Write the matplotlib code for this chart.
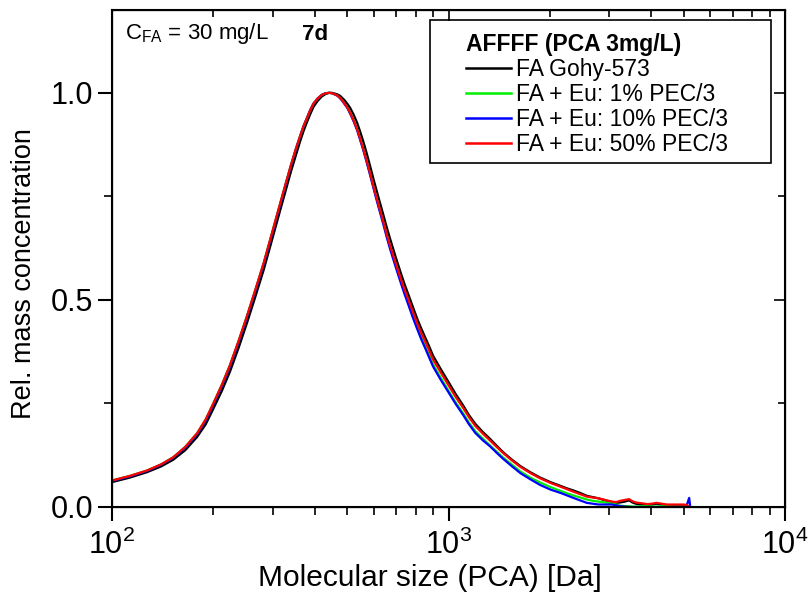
import numpy as np
import matplotlib
matplotlib.use("Agg")
import matplotlib.pyplot as plt
from matplotlib import font_manager
from matplotlib.patches import Rectangle
from matplotlib.ticker import LogLocator, MultipleLocator, NullFormatter

# ---------------------------------------------------------------
# Data: relative mass concentration vs. molecular size (PCA)
# ---------------------------------------------------------------
mass = [100, 113, 127, 140, 152, 165, 179, 190, 200, 212,
        224, 238, 252, 267, 282, 298, 316, 328, 340, 351,
        362, 371, 380, 388, 397, 408, 420, 431, 442, 451,
        460, 468, 476, 483, 490, 500, 510, 522, 535, 546,
        558, 571, 585, 598, 612, 626, 640, 655, 671, 697,
        723, 741, 760, 783, 807, 828, 850, 875, 900, 950,
        1000, 1050, 1106, 1150, 1201, 1265, 1331, 1390, 1455, 1540,
        1634, 1750, 1874, 2010, 2152, 2250, 2350, 2460, 2576, 2680,
        2790, 2920, 3060, 3150, 3240, 3340, 3440, 3520, 3600, 3750,
        3900, 4020, 4150, 4300, 4450, 4700, 5000, 5100, 5190, 5230]

fa_gohy = [0.060, 0.071, 0.084, 0.098, 0.114, 0.137, 0.169, 0.200, 0.237, 0.280,
           0.326, 0.385, 0.445, 0.509, 0.571, 0.641, 0.716, 0.763, 0.809, 0.846,
           0.882, 0.908, 0.930, 0.948, 0.966, 0.980, 0.991, 0.997, 1.000, 1.000,
           0.998, 0.996, 0.993, 0.988, 0.983, 0.974, 0.964, 0.948, 0.928, 0.907,
           0.883, 0.855, 0.823, 0.793, 0.763, 0.734, 0.706, 0.676, 0.647, 0.603,
           0.563, 0.537, 0.513, 0.484, 0.455, 0.433, 0.412, 0.389, 0.365, 0.332,
           0.302, 0.273, 0.245, 0.222, 0.201, 0.181, 0.164, 0.148, 0.132, 0.115,
           0.099, 0.084, 0.071, 0.060, 0.051, 0.045, 0.040, 0.034, 0.027, 0.024,
           0.021, 0.016, 0.012, 0.010, 0.011, 0.013, 0.016, 0.011, 0.008, 0.006,
           0.005, 0.006, 0.008, 0.006, 0.004, 0.004, 0.004, 0.002, 0.000, np.nan]

eu_1pct = [0.064, 0.075, 0.088, 0.103, 0.120, 0.145, 0.178, 0.212, 0.250, 0.295,
           0.342, 0.402, 0.462, 0.526, 0.588, 0.658, 0.733, 0.780, 0.825, 0.862,
           0.895, 0.920, 0.940, 0.958, 0.974, 0.986, 0.995, 0.999, 1.000, 0.999,
           0.996, 0.993, 0.988, 0.982, 0.975, 0.965, 0.952, 0.934, 0.912, 0.889,
           0.864, 0.835, 0.804, 0.774, 0.743, 0.714, 0.687, 0.656, 0.627, 0.584,
           0.544, 0.518, 0.493, 0.463, 0.434, 0.411, 0.390, 0.367, 0.344, 0.311,
           0.281, 0.253, 0.226, 0.204, 0.183, 0.165, 0.148, 0.134, 0.119, 0.103,
           0.086, 0.071, 0.059, 0.048, 0.039, 0.033, 0.028, 0.023, 0.018, 0.015,
           0.013, 0.011, 0.009, 0.006, 0.003, 0.002, 0.002, 0.001, 0.001, 0.002,
           0.002, 0.001, 0.001, 0.002, 0.002, 0.001, 0.001, 0.000, np.nan, np.nan]

eu_10pct = [0.063, 0.074, 0.087, 0.102, 0.119, 0.143, 0.176, 0.209, 0.247, 0.292,
            0.339, 0.399, 0.459, 0.523, 0.585, 0.655, 0.730, 0.778, 0.823, 0.861,
            0.894, 0.920, 0.940, 0.958, 0.974, 0.986, 0.995, 0.999, 1.000, 0.999,
            0.996, 0.993, 0.987, 0.981, 0.974, 0.964, 0.950, 0.932, 0.910, 0.887,
            0.862, 0.833, 0.801, 0.771, 0.740, 0.711, 0.683, 0.652, 0.622, 0.579,
            0.539, 0.513, 0.488, 0.458, 0.430, 0.407, 0.386, 0.362, 0.339, 0.306,
            0.277, 0.249, 0.222, 0.200, 0.179, 0.161, 0.146, 0.131, 0.116, 0.099,
            0.082, 0.067, 0.053, 0.042, 0.034, 0.028, 0.022, 0.016, 0.010, 0.008,
            0.006, 0.006, 0.006, 0.004, 0.002, 0.001, 0.000, 0.000, 0.000, 0.000,
            0.000, 0.000, 0.000, 0.000, 0.000, 0.000, 0.000, 0.003, 0.022, 0.000]

eu_50pct = [0.064, 0.075, 0.088, 0.103, 0.120, 0.145, 0.178, 0.212, 0.250, 0.295,
            0.342, 0.402, 0.462, 0.526, 0.588, 0.658, 0.733, 0.780, 0.825, 0.862,
            0.895, 0.920, 0.940, 0.958, 0.974, 0.986, 0.995, 0.999, 1.000, 0.999,
            0.996, 0.993, 0.988, 0.982, 0.975, 0.965, 0.952, 0.934, 0.912, 0.890,
            0.865, 0.836, 0.805, 0.775, 0.745, 0.717, 0.689, 0.659, 0.630, 0.588,
            0.549, 0.524, 0.501, 0.472, 0.444, 0.422, 0.402, 0.379, 0.356, 0.324,
            0.294, 0.266, 0.239, 0.217, 0.196, 0.177, 0.160, 0.145, 0.130, 0.113,
            0.097, 0.082, 0.069, 0.058, 0.049, 0.043, 0.037, 0.031, 0.025, 0.023,
            0.021, 0.017, 0.013, 0.012, 0.015, 0.017, 0.019, 0.014, 0.011, 0.009,
            0.007, 0.008, 0.010, 0.008, 0.006, 0.006, 0.006, 0.005, 0.000, np.nan]

series_labels = ["FA Gohy-573", "FA + Eu: 1% PEC/3",
                 "FA + Eu: 10% PEC/3", "FA + Eu: 50% PEC/3"]
series_colors = ["black", "#00ee00", "#0000ff", "#ff0000"]

# ---------------------------------------------------------------
# Font
# ---------------------------------------------------------------
installed = {f.name for f in font_manager.fontManager.ttflist}
font = "Liberation Sans" if "Liberation Sans" in installed else "DejaVu Sans"
plt.rcParams["font.family"] = [font, "DejaVu Sans"]
plt.rcParams["mathtext.fontset"] = "custom"
plt.rcParams["mathtext.rm"] = font
plt.rcParams["mathtext.default"] = "regular"

# ---------------------------------------------------------------
# Plot
# ---------------------------------------------------------------
fig = plt.figure(figsize=(8.09, 5.92), dpi=100)
ax = fig.add_axes([112 / 809, 1 - 507 / 592, 673 / 809, 497 / 592])

all_series = [fa_gohy, eu_1pct, eu_10pct, eu_50pct]
handles = []
for vals, lab, col in zip(all_series, series_labels, series_colors):
    h, = ax.plot(mass, vals, color=col, lw=1.6, label=lab)
    handles.append(h)

ax.set_xscale("log")
ax.set_xlim(100, 1e4)
ax.set_ylim(0, 1.2)
ax.xaxis.set_minor_locator(LogLocator(base=10, subs=range(2, 10)))
ax.xaxis.set_minor_formatter(NullFormatter())
ax.yaxis.set_major_locator(MultipleLocator(0.5))
ax.yaxis.set_minor_locator(MultipleLocator(0.25))

for sp in ax.spines.values():
    sp.set_linewidth(1.5)

ax.tick_params(which="major", direction="out", length=10, width=1.5, labelsize=22)
ax.tick_params(axis="x", which="major", pad=6)
ax.tick_params(which="minor", direction="out", length=6, width=1.2)

# inward ticks on the top and right frame
axt = ax.twiny()
axt.set_xscale("log")
axt.set_xlim(ax.get_xlim())
axt.xaxis.set_minor_locator(LogLocator(base=10, subs=range(2, 10)))
axt.tick_params(which="both", direction="in", labeltop=False, width=1.2)
axt.tick_params(which="major", length=8)
axt.tick_params(which="minor", length=5)

axr = ax.twinx()
axr.set_ylim(ax.get_ylim())
axr.yaxis.set_major_locator(MultipleLocator(0.5))
axr.yaxis.set_minor_locator(MultipleLocator(0.25))
axr.tick_params(which="both", direction="in", labelright=False, width=1.2)
axr.tick_params(which="major", length=8)
axr.tick_params(which="minor", length=5)

ax.set_xlabel("Molecular size (PCA) [Da]", fontsize=21.5)
ax.xaxis.set_label_coords(0.4725, -0.114)
ax.set_ylabel("Rel. mass concentration", fontsize=19.5)
ax.yaxis.set_label_coords(-0.112, 0.469)

ax.text(0.02, 0.953, r"C$_{\mathregular{FA}}$ = 30 mg/L", transform=ax.transAxes,
        fontsize=16, va="center", ha="left")
ax.text(0.283, 0.951, "7d", transform=ax.transAxes, fontsize=16,
        fontweight="bold", va="center", ha="left")

# legend box
box = Rectangle((0.4725, 0.6928), 0.5065, 0.2872, transform=ax.transAxes,
                facecolor="white", edgecolor="black", lw=1.2, zorder=5)
ax.add_patch(box)
leg = ax.legend(handles=handles, title="AFFFF (PCA 3mg/L)", loc="upper left",
                bbox_to_anchor=(0.5254, 0.953), frameon=False, fontsize=16.5,
                title_fontproperties={"weight": "bold", "size": 16.5},
                alignment="left", handlelength=2.0, handletextpad=0.2,
                labelspacing=0.085, borderpad=0, borderaxespad=0)
leg.set_zorder(6)
for line in leg.get_lines():
    line.set_linewidth(1.8)

fig.savefig("out.png", dpi=100)
